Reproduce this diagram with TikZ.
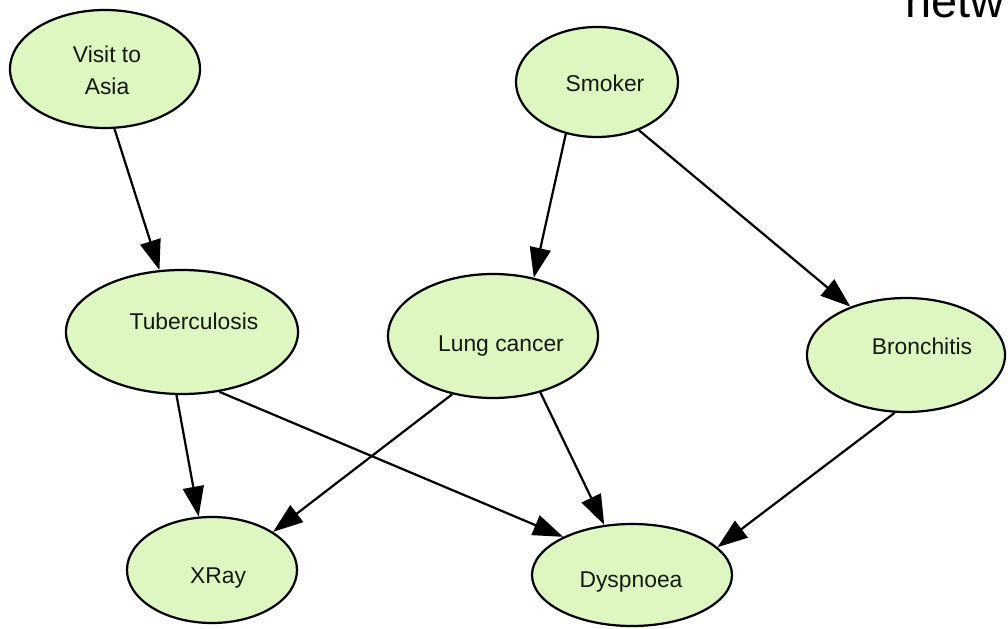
\documentclass[tikz,border=0pt]{standalone}
\usepackage{fontspec}
\setmainfont{Liberation Sans}
\usetikzlibrary{arrows.meta,shapes.geometric}
\definecolor{nodefill}{RGB}{222,246,192}
\definecolor{nodetext}{RGB}{18,26,16}
\begin{document}
\begin{tikzpicture}[x=0.03cm,y=-0.03cm,
  var/.style={ellipse, draw=black, line width=1.9pt, fill=nodefill, inner sep=0pt},
  vartext/.style={anchor=base, text=nodetext, inner sep=0pt,
    font=\fontsize{19.5}{24}\selectfont},
  link/.style={line width=1.9pt, -{Triangle[length=0.9cm,width=0.63cm]}}]
\useasboundingbox (0,0) rectangle (1008,629);

% variables of the network
\node[var, minimum width=5.7cm,  minimum height=3.54cm] (visit)  at (105,69)  {};
\node[var, minimum width=4.86cm, minimum height=3.3cm]  (smoker) at (597,82)  {};
\node[var, minimum width=6.96cm, minimum height=3.72cm] (tub)    at (182,332) {};
\node[var, minimum width=6.3cm,  minimum height=3.72cm] (lung)   at (493,336) {};
\node[var, minimum width=5.94cm, minimum height=3.42cm] (bron)   at (906,355) {};
\node[var, minimum width=5.1cm,  minimum height=3.18cm] (xray)   at (212,570) {};
\node[var, minimum width=6.0cm,  minimum height=3.06cm] (dysp)   at (632,575) {};

% their names
\node[vartext] (visit-l1)     at (107,63)  {Visit to};
\node[vartext] (visit-l2)     at (107,95)  {Asia};
\node[vartext] (smoker-label) at (605,92)  {Smoker};
\node[vartext] (tub-label)    at (194,330) {Tuberculosis};
\node[vartext] (lung-label)   at (501,352) {Lung cancer};
\node[vartext] (bron-label)   at (922,355) {Bronchitis};
\node[vartext] (xray-label)   at (218,583) {XRay};
\node[vartext] (dysp-label)   at (631,587) {Dyspnoea};

% dependencies
\draw[link] (visit.-81)  -- (tub.110);
\draw[link] (smoker.-121) -- (lung.55);
\draw[link] (smoker.-49) -- (bron.139);
\draw[link] (tub.-95)    -- (xray.104);
\draw[link] (tub.-58)    -- (dysp.151);
\draw[link] (lung.-125)  -- (xray.32);
\draw[link] (lung.-50)   -- (dysp.119);
\draw[link] (bron.-101)  -- (dysp.18);

% heading running off the top edge
\node[anchor=base west, inner sep=0pt, font=\fontsize{40}{48}\selectfont] (heading) at (905,18) {netw};
\end{tikzpicture}
\end{document}
